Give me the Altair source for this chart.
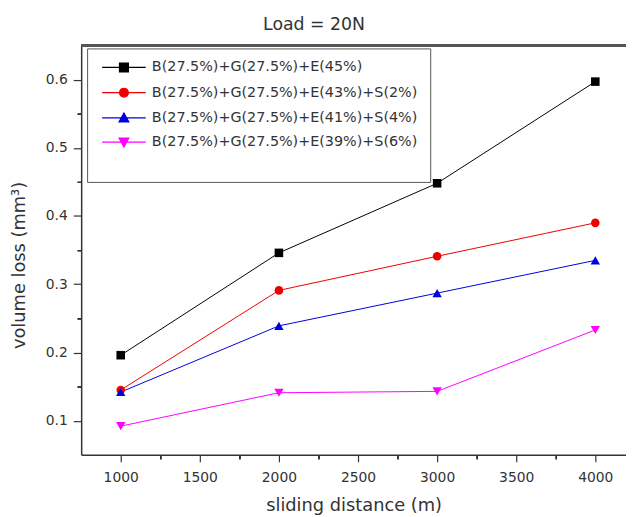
import altair as alt
import pandas as pd

distance = [1000, 2000, 3000, 4000]
series_names = [
    "B(27.5%)+G(27.5%)+E(45%)",
    "B(27.5%)+G(27.5%)+E(43%)+S(2%)",
    "B(27.5%)+G(27.5%)+E(41%)+S(4%)",
    "B(27.5%)+G(27.5%)+E(39%)+S(6%)",
]
loss_s0 = [0.196, 0.346, 0.448, 0.597]
loss_s2 = [0.145, 0.291, 0.341, 0.390]
loss_s4 = [0.142, 0.239, 0.287, 0.335]
loss_s6 = [0.092, 0.141, 0.143, 0.233]

colors = ["#000000", "#ee0000", "#0000dd", "#ff00ff"]
marker_shapes = ["square", "circle", "triangle-up", "triangle-down"]
legend_paths = [
    "M-4.9,0H4.9M-1,-1H1V1H-1Z",
    "M-4.9,0H4.9M1,0A1,1,0,1,1,-1,0A1,1,0,1,1,1,0Z",
    "M-4.9,0H4.9M0,-1.1L1.1,0.9H-1.1Z",
    "M-4.9,0H4.9M0,1.1L1.1,-0.9H-1.1Z",
]

rows = []
for name, vals in zip(series_names, [loss_s0, loss_s2, loss_s4, loss_s6]):
    for d, v in zip(distance, vals):
        rows.append({"series": name, "distance": d, "loss": v})
df = pd.DataFrame(rows)

FONT = "DejaVu Sans"
X_DOMAIN = [750, 4194]
Y_DOMAIN = [0.05, 0.65]

xscale = alt.Scale(domain=X_DOMAIN, nice=False, zero=False)
yscale = alt.Scale(domain=Y_DOMAIN, nice=False, zero=False)
cscale = alt.Scale(domain=series_names, range=colors)

x_main = alt.X(
    "distance:Q", scale=xscale,
    axis=alt.Axis(values=[1000, 1500, 2000, 2500, 3000, 3500, 4000], format="d",
                  title="sliding distance (m)", tickSize=7, labelPadding=9,
                  titlePadding=12),
)
y_main = alt.Y(
    "loss:Q", scale=yscale,
    axis=alt.Axis(values=[0.1, 0.2, 0.3, 0.4, 0.5, 0.6], format=".1f",
                  title="volume loss (mm³)", tickSize=8, labelPadding=6,
                  titleX=-62, titleY=222, titleAngle=270, titleAlign="center",
                  titleBaseline="middle"),
)
x_minor = alt.X(
    "distance:Q", scale=xscale,
    axis=alt.Axis(values=[1250, 1750, 2250, 2750, 3250, 3750], labels=False,
                  title=None, tickSize=4, domain=False, orient="bottom"),
)
y_minor = alt.Y(
    "loss:Q", scale=yscale,
    axis=alt.Axis(values=[0.15, 0.25, 0.35, 0.45, 0.55], labels=False,
                  title=None, tickSize=4, domain=False, orient="left"),
)

def make_legend():
    return alt.Legend(
        title=" ", titleOrient="bottom", titleFontSize=14, titlePadding=7,
        orient="none", legendX=6, legendY=3,
        strokeColor="#555555", padding=12,
        labelFont=FONT, labelFontSize=14.5, labelColor="#333333",
        labelLimit=400, rowPadding=9.5, symbolSize=81,
        symbolStrokeWidth=1.2, symbolOffset=18, labelOffset=21,
        symbolOpacity=1)

lines = alt.Chart(df).mark_line(strokeWidth=1).encode(
    x=x_main, y=y_main,
    color=alt.Color("series:N", scale=cscale, legend=make_legend()),
    detail="series:N",
)

point_layers = []
for name, shp in zip(series_names, marker_shapes):
    sz = 75 if shp in ("square", "circle") else 90
    point_layers.append(
        alt.Chart(df).transform_filter(alt.datum.series == name)
        .mark_point(shape=shp, filled=True, size=sz, opacity=1)
        .encode(x=x_minor, y=y_minor,
                color=alt.Color("series:N", scale=cscale, legend=None))
    )

legend_layer = alt.Chart(df).transform_filter(alt.datum.distance < 0).mark_point(opacity=1).encode(
    x=alt.X("distance:Q", scale=xscale, axis=None),
    y=alt.Y("loss:Q", scale=yscale, axis=None),
    fill=alt.Fill("series:N", scale=alt.Scale(domain=series_names, range=colors),
                  legend=make_legend()),
    stroke=alt.Stroke("series:N", scale=alt.Scale(domain=series_names, range=colors),
                      legend=make_legend()),
    shape=alt.Shape("series:N", scale=alt.Scale(domain=series_names, range=legend_paths),
                    legend=make_legend()),
)

top_border = alt.Chart(df).mark_rule(color="#555555", strokeWidth=1.5).encode(
    x=alt.value(0), x2=alt.value(551), y=alt.value(0)
)

chart = alt.layer(
    top_border, lines, *point_layers, legend_layer
).resolve_axis(
    x="independent", y="independent"
).properties(
    width=551, height=414,
    title=alt.Title("Load = 20N", fontSize=17.5, font=FONT, color="#333333",
                    fontWeight="normal", anchor="middle", dx=-40, offset=11),
    padding={"left": 74, "top": 35, "right": 0, "bottom": 60},
    autosize=alt.AutoSizeParams(type="none"),
).configure_view(
    stroke=None
).configure_axis(
    domainColor="#333333", domainWidth=1.5, tickColor="#333333", tickWidth=1.2,
    labelFont=FONT, labelFontSize=14, labelColor="#333333",
    titleFont=FONT, titleFontSize=18, titleColor="#333333", titleFontWeight="normal",
    grid=False,
)

chart.save("out.html", embed_options={"renderer": "svg", "actions": False})
